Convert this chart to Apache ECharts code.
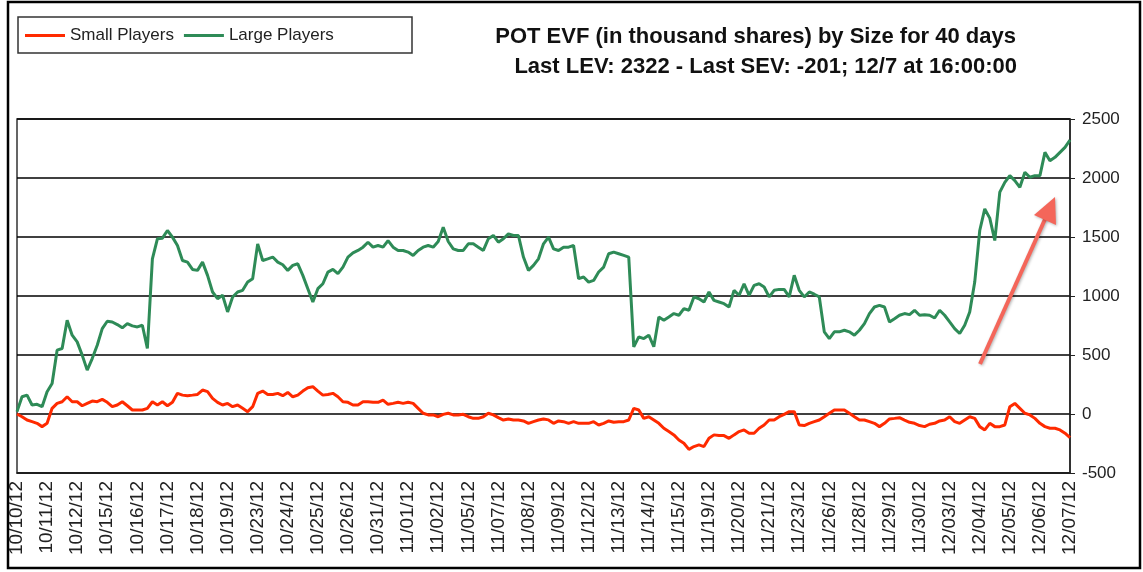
<!DOCTYPE html>
<html>
<head>
<meta charset="utf-8">
<script src="https://cdn.jsdelivr.net/npm/echarts@6/dist/echarts.min.js"></script>
<style>
  body { margin: 0; background: #fff; }
  #chart { width: 1143px; height: 572px; }
</style>
</head>
<body>
<div id="chart"></div>
<script>
// trading days shown on the x axis (one label every 6 points)
var dayLabels = ['10/10/12', '10/11/12', '10/12/12', '10/15/12', '10/16/12', '10/17/12', '10/18/12', '10/19/12',
  '10/23/12', '10/24/12', '10/25/12', '10/26/12', '10/31/12', '11/01/12', '11/02/12', '11/05/12', '11/07/12',
  '11/08/12', '11/09/12', '11/12/12', '11/13/12', '11/14/12', '11/15/12', '11/19/12', '11/20/12', '11/21/12',
  '11/23/12', '11/26/12', '11/28/12', '11/29/12', '11/30/12', '12/03/12', '12/04/12', '12/05/12', '12/06/12',
  '12/07/12'];
var pointsPerDay = 6;

var smallPlayers = [
  0, -23, -51, -65, -79, -107, -79, 48, 90, 104,
  146, 104, 104, 70, 90, 110, 104, 124, 99, 62,
  76, 104, 70, 34, 34, 34, 48, 104, 76, 104,
  70, 99, 175, 160, 155, 160, 166, 203, 189, 132,
  99, 76, 90, 62, 76, 48, 20, 62, 175, 194,
  166, 166, 175, 155, 183, 146, 160, 194, 223, 231,
  194, 160, 166, 175, 146, 104, 99, 76, 76, 104,
  104, 99, 99, 118, 82, 90, 99, 90, 99, 90,
  48, 6, -8, -8, -23, -3, 6, -8, -8, -3,
  -23, -37, -37, -23, 6, -8, -31, -51, -42, -51,
  -51, -59, -79, -65, -51, -42, -50, -79, -59, -65,
  -79, -65, -79, -79, -79, -65, -93, -79, -59, -70,
  -65, -65, -51, 48, 34, -37, -23, -51, -79, -121,
  -149, -177, -220, -248, -300, -276, -262, -276, -206, -177,
  -183, -183, -206, -177, -149, -135, -163, -163, -121, -93,
  -51, -51, -23, -3, 20, 20, -93, -98, -79, -65,
  -51, -23, 6, 34, 34, 34, 6, -23, -51, -51,
  -65, -79, -107, -79, -42, -37, -31, -51, -70, -79,
  -98, -107, -87, -79, -59, -51, -23, -65, -79, -51,
  -23, -37, -107, -135, -79, -107, -107, -93, 62, 90,
  48, 6, -8, -37, -79, -107, -121, -121, -135, -163,
  -201
];

var largePlayers = [
  20, 146, 160, 76, 82, 62, 189, 259, 541, 555,
  794, 668, 611, 499, 372, 470, 583, 724, 786, 780,
  758, 730, 766, 747, 738, 752, 555, 1315, 1485, 1490,
  1555, 1499, 1428, 1301, 1287, 1225, 1217, 1287, 1175, 1034,
  977, 1006, 865, 992, 1034, 1048, 1118, 1147, 1442, 1301,
  1315, 1330, 1287, 1265, 1217, 1259, 1273, 1175, 1062, 949,
  1062, 1104, 1203, 1225, 1189, 1245, 1330, 1366, 1386, 1414,
  1456, 1414, 1428, 1414, 1470, 1414, 1386, 1386, 1372, 1344,
  1386, 1414, 1428, 1414, 1462, 1583, 1462, 1400, 1386, 1386,
  1442, 1442, 1414, 1386, 1485, 1513, 1456, 1485, 1527, 1513,
  1513, 1330, 1217, 1259, 1315, 1442, 1499, 1400, 1386, 1414,
  1414, 1428, 1147, 1161, 1118, 1132, 1203, 1245, 1358, 1372,
  1358, 1344, 1330, 569, 654, 639, 668, 570, 822, 794,
  822, 851, 837, 893, 879, 992, 977, 949, 1034, 963,
  949, 935, 907, 1048, 1006, 1104, 1006, 1090, 1104, 1076,
  992, 1048, 1056, 1056, 992, 1175, 1048, 992, 1034, 1015,
  992, 696, 639, 696, 696, 710, 696, 668, 710, 766,
  851, 907, 921, 907, 780, 808, 837, 851, 842, 879,
  837, 842, 837, 814, 879, 837, 780, 724, 682, 752,
  865, 1118, 1555, 1738, 1660, 1470, 1880, 1963, 2020, 1978,
  1921, 2048, 2006, 2020, 2020, 2217, 2147, 2175, 2217, 2259,
  2322
];

var yTicks = [-500, 0, 500, 1000, 1500, 2000, 2500];

var titleLine1 = 'POT EVF (in thousand shares) by Size for 40 days';
var titleLine2 = 'Last LEV: 2322 - Last SEV: -201; 12/7 at 16:00:00';

var categories = [];
for (var i = 0; i < smallPlayers.length; i++) {
  categories.push(dayLabels[Math.floor(i / pointsPerDay)]);
}

var font = '"Liberation Sans", Arial, sans-serif';
var myChart = echarts.init(document.getElementById('chart'));

myChart.setOption({
  animation: false,
  backgroundColor: '#fff',
  textStyle: { fontFamily: font },
  title: [
    { text: titleLine1, right: 127, top: 26, padding: 0,
      textStyle: { fontSize: 22, fontWeight: 'bold', color: '#111', fontFamily: font } },
    { text: titleLine2, right: 126, top: 56, padding: 0,
      textStyle: { fontSize: 22, fontWeight: 'bold', color: '#111', fontFamily: font } }
  ],
  legend: {
    data: ['Small Players', 'Large Players'],
    icon: 'rect',
    left: 25,
    top: 27,
    itemWidth: 40,
    itemHeight: 3,
    itemGap: 10,
    padding: 0,
    textStyle: { fontSize: 17, color: '#222', fontFamily: font }
  },
  grid: {
    left: 17,
    right: 73,
    top: 119,
    bottom: 99,
    show: true,
    borderColor: '#333',
    borderWidth: 1.5,
    containLabel: false
  },
  xAxis: {
    type: 'category',
    data: categories,
    boundaryGap: false,
    axisLine: { show: true, onZero: false, lineStyle: { color: '#222', width: 1.5 } },
    axisTick: { show: false },
    splitLine: { show: false },
    axisLabel: {
      interval: pointsPerDay - 1,
      rotate: 90,
      margin: 8,
      fontSize: 19,
      color: '#222',
      fontFamily: font
    }
  },
  yAxis: {
    type: 'value',
    position: 'right',
    min: yTicks[0],
    max: yTicks[yTicks.length - 1],
    interval: 500,
    axisLine: { show: true, lineStyle: { color: '#222', width: 1.5 } },
    axisTick: { show: true, inside: false, length: 5, lineStyle: { color: '#222' } },
    axisLabel: {
      margin: 12, fontSize: 17, color: '#222', fontFamily: font,
      formatter: function (v) { return String(v); }
    },
    splitLine: { show: true, lineStyle: { color: '#000', width: 1.5 } }
  },
  series: [
    {
      name: 'Small Players',
      type: 'line',
      data: smallPlayers,
      symbol: 'none',
      color: '#ff2a00',
      lineStyle: { color: '#ff2a00', width: 3 }
    },
    {
      name: 'Large Players',
      type: 'line',
      data: largePlayers,
      symbol: 'none',
      color: '#2e8b57',
      lineStyle: { color: '#2e8b57', width: 3 }
    }
  ],
  graphic: [
    // outer frame
    { type: 'rect', shape: { x: 8, y: 2, width: 1132, height: 566 },
      style: { fill: 'none', stroke: '#000', lineWidth: 2.5 }, silent: true },
    // legend box
    { type: 'rect', shape: { x: 18, y: 17, width: 394, height: 36 },
      style: { fill: 'none', stroke: '#333', lineWidth: 1.5 }, silent: true },
    // annotation arrow
    { type: 'line', shape: { x1: 980, y1: 364, x2: 1046, y2: 217 },
      style: { stroke: '#f4665a', lineWidth: 4, shadowBlur: 3, shadowColor: 'rgba(0,0,0,0.3)', shadowOffsetX: 1, shadowOffsetY: 1 },
      silent: true, z: 100 },
    { type: 'polygon', shape: { points: [[1055, 197], [1034, 215], [1056, 225]] },
      style: { fill: '#f4665a', shadowBlur: 3, shadowColor: 'rgba(0,0,0,0.3)', shadowOffsetX: 1, shadowOffsetY: 1 },
      silent: true, z: 100 }
  ]
});
</script>
</body>
</html>
